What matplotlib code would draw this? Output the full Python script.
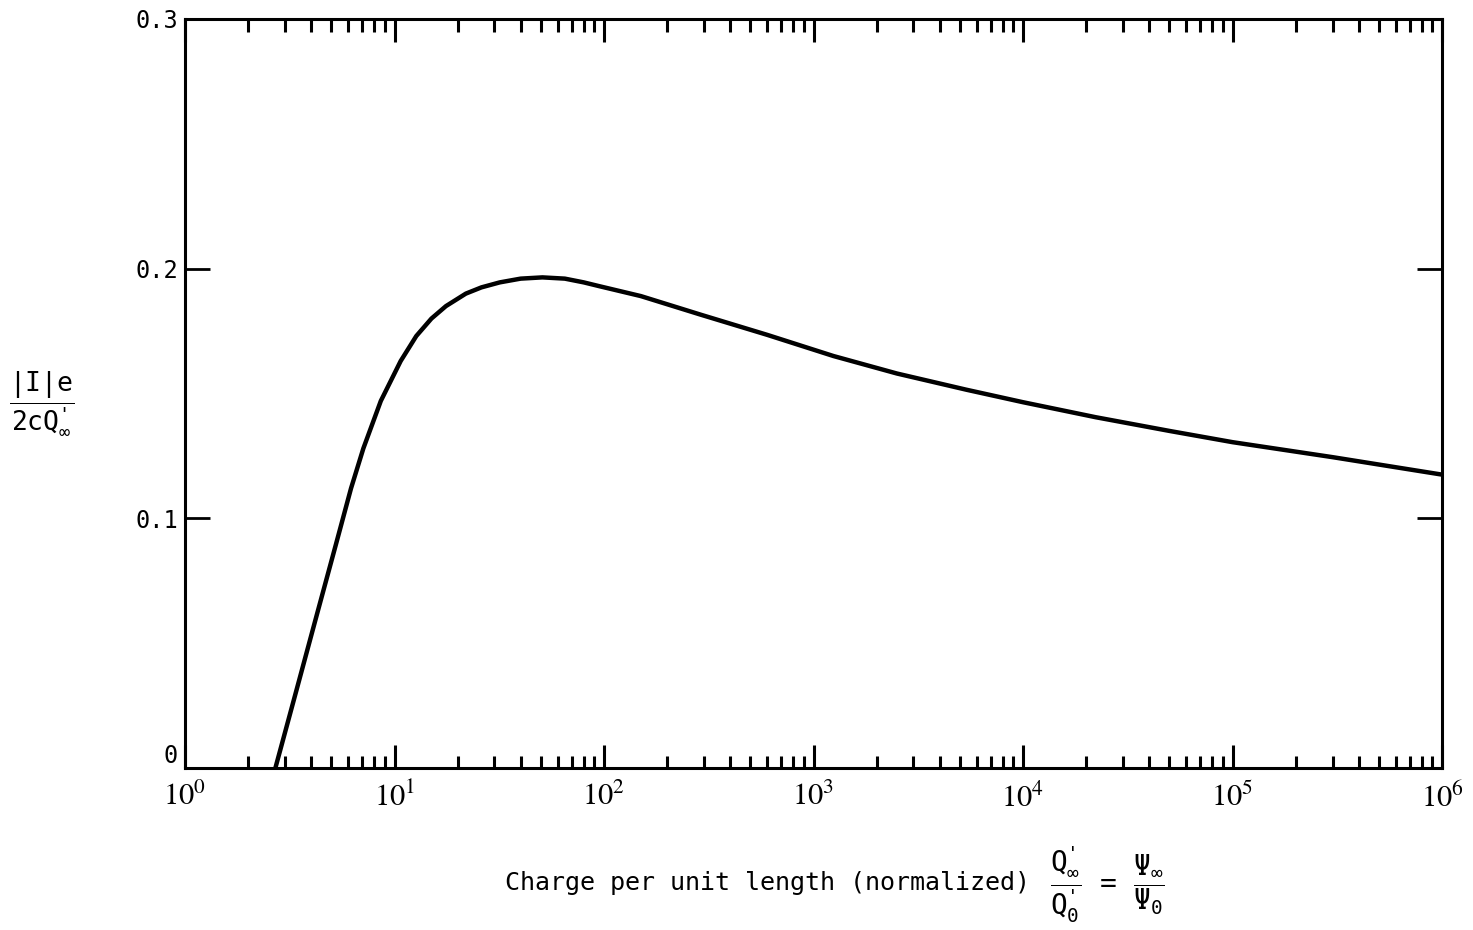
import numpy as np
import matplotlib
matplotlib.use("Agg")
import matplotlib.pyplot as plt
from matplotlib.ticker import LogLocator, FixedLocator, FixedFormatter, NullFormatter

plt.rcParams['font.family'] = ['DejaVu Sans Mono', 'DejaVu Sans']
plt.rcParams['mathtext.fontset'] = 'custom'
plt.rcParams['mathtext.rm'] = 'DejaVu Sans Mono'
plt.rcParams['mathtext.it'] = 'DejaVu Sans Mono'

# curve: normalized charge per unit length vs |I|e / 2cQ'
charge = [2.7, 3.4, 4.3, 5.25, 6.2, 7.1, 8.6, 10.7, 12.7, 15, 17.6, 21.9, 26, 31.8,
          40, 50.8, 65, 80, 94.7, 150, 291, 600, 1245, 2500, 5370, 10000, 22200,
          50000, 1e5, 3e5, 1e6]
current = [0.0, 0.031, 0.0627, 0.0895, 0.112, 0.128, 0.147, 0.163, 0.173, 0.180,
           0.185, 0.190, 0.1925, 0.1945, 0.196, 0.1965, 0.196, 0.1945, 0.193, 0.189,
           0.1815, 0.1735, 0.165, 0.158, 0.1515, 0.1465, 0.1405, 0.135, 0.1305,
           0.1245, 0.1175]

xticks = [1e0, 1e1, 1e2, 1e3, 1e4, 1e5, 1e6]
xticklabels = [r'$10^{%d}$' % i for i in range(7)]
yticks = [0, 0.1, 0.2, 0.3]
yticklabels = ['0', '0.1', '0.2', '0.3']

fig = plt.figure(figsize=(14.73, 9.30), dpi=100)
ax = fig.add_axes([0.1256, 0.1742, 0.8534, 0.8054])

ax.plot(charge, current, color='black', lw=3.2, solid_capstyle='round',
        solid_joinstyle='round')

ax.set_xscale('log')
ax.set_xlim(1, 1e6)
ax.set_ylim(0, 0.3)

ax.xaxis.set_major_locator(FixedLocator(xticks))
ax.xaxis.set_major_formatter(FixedFormatter(xticklabels))
ax.xaxis.set_minor_locator(LogLocator(base=10, subs=np.arange(2, 10), numticks=100))
ax.xaxis.set_minor_formatter(NullFormatter())
ax.set_yticks(yticks)
ax.set_yticklabels(yticklabels)

for lab in ax.get_xticklabels():
    lab.set_math_fontfamily('stix')
ax.get_yticklabels()[0].set_va('bottom')

ax.tick_params(axis='x', which='major', direction='in', top=True, bottom=True,
               length=16.5, width=2.2, pad=10, labelsize=22)
ax.tick_params(axis='x', which='minor', direction='in', top=True, bottom=True,
               length=9, width=2.2)
ax.tick_params(axis='y', which='major', direction='in', left=True, right=True,
               length=18, width=2.0, pad=5, labelsize=17)

for s in ax.spines.values():
    s.set_linewidth(2.2)

# x label: words + fraction drawn separately so the fraction can be larger
fig.text(1030 / 1473, 1 - 883 / 930, "Charge per unit length (normalized)",
         fontsize=18, ha='right', va='center')
fig.text(1050 / 1473, 1 - 885 / 930,
         r"$\dfrac{\text{Q}^{\text{'}}_{\infty}}{\text{Q}^{\text{'}}_{0}}$ = "
         r"$\dfrac{\Psi_{\infty}}{\Psi_{0}}$",
         fontsize=20, ha='left', va='center')

ax.set_ylabel(r"$\dfrac{\text{|I|e}}{\text{2cQ}^{\text{'}}_{\infty}}$", fontsize=19, rotation=0)
ax.yaxis.set_label_coords(-0.114, 0.487)
ax.yaxis.label.set_va('center')

fig.savefig('out.png', dpi=100)
